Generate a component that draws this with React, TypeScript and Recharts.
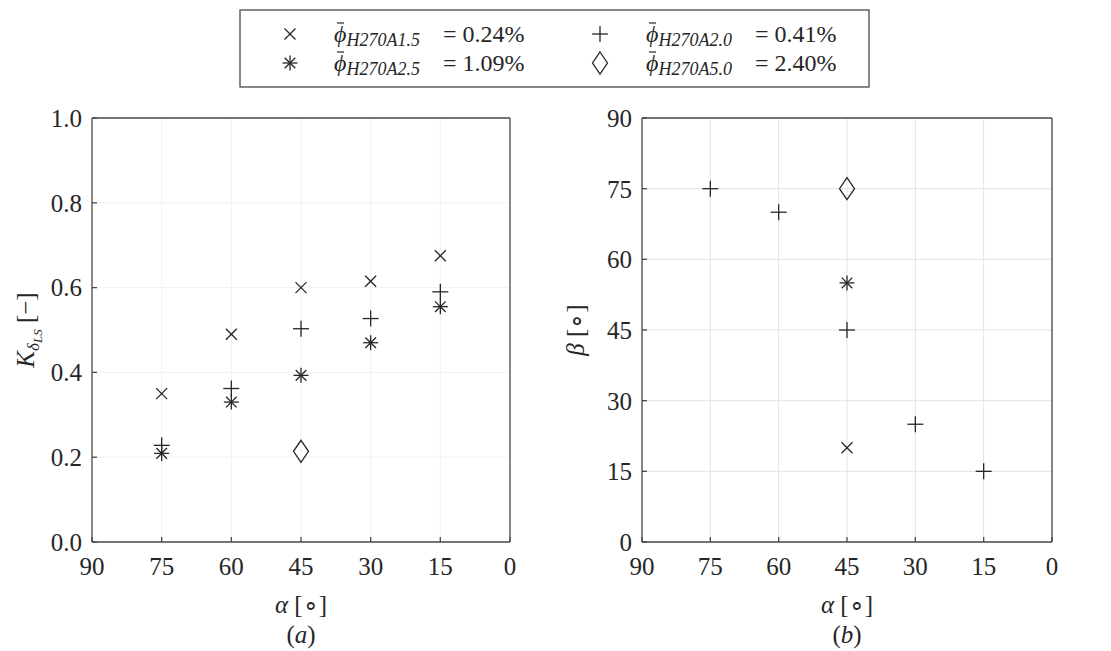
import React from "react";
import { ScatterChart, Scatter, XAxis, YAxis, CartesianGrid } from "recharts";

// ---- data ----
const alphaTicks = [0, 15, 30, 45, 60, 75, 90];
const kTicks = [0, 0.2, 0.4, 0.6, 0.8, 1.0];
const betaTicks = [0, 15, 30, 45, 60, 75, 90];

// (a) K_dLS against alpha
const alphaK = [75, 60, 45, 30, 15];
const kA15 = [0.35, 0.49, 0.6, 0.615, 0.675];
const kA20 = [0.228, 0.362, 0.503, 0.527, 0.59];
const kA25 = [0.209, 0.33, 0.393, 0.47, 0.555];
const alphaKA50 = [45];
const kA50 = [0.214];

// (b) beta against alpha
const alphaBA15 = [45];
const betaA15 = [20];
const alphaBA20 = [75, 60, 45, 30, 15];
const betaA20 = [75, 70, 45, 25, 15];
const alphaBA25 = [45];
const betaA25 = [55];
const alphaBA50 = [45];
const betaA50 = [75];

const seriesSubs = ["H270A1.5", "H270A2.0", "H270A2.5", "H270A5.0"];
const seriesMeans = ["0.24%", "0.41%", "1.09%", "2.40%"];

const INK = "#262626";
const FRAME = "#4a4a4a";
const FONT = "Liberation Serif, Times New Roman, serif";

type Kind = "x" | "plus" | "star" | "diamond";
const kinds: Kind[] = ["x", "plus", "star", "diamond"];

const zip = (xs: number[], ys: number[]) => xs.map((x, i) => ({ alpha: x, v: ys[i] }));

function Glyph({ kind, cx, cy }: { kind: Kind; cx: number; cy: number }) {
  const s = { stroke: INK, strokeWidth: 1.3, fill: "none" };
  if (kind === "x") {
    const r = 5.5;
    return (
      <g {...s}>
        <line x1={cx - r} y1={cy - r} x2={cx + r} y2={cy + r} />
        <line x1={cx - r} y1={cy + r} x2={cx + r} y2={cy - r} />
      </g>
    );
  }
  if (kind === "plus") {
    const r = 8;
    return (
      <g {...s}>
        <line x1={cx - r} y1={cy} x2={cx + r} y2={cy} />
        <line x1={cx} y1={cy - r} x2={cx} y2={cy + r} />
      </g>
    );
  }
  if (kind === "star") {
    const r = 7.5;
    const d = 5.3;
    return (
      <g {...s}>
        <line x1={cx - r} y1={cy} x2={cx + r} y2={cy} />
        <line x1={cx} y1={cy - r} x2={cx} y2={cy + r} />
        <line x1={cx - d} y1={cy - d} x2={cx + d} y2={cy + d} />
        <line x1={cx - d} y1={cy + d} x2={cx + d} y2={cy - d} />
      </g>
    );
  }
  return (
    <path
      d={`M${cx},${cy - 11} L${cx + 7.5},${cy} L${cx},${cy + 11} L${cx - 7.5},${cy} Z`}
      {...s}
    />
  );
}

const shapeOf = (kind: Kind) => (p: any) => <Glyph kind={kind} cx={p.cx} cy={p.cy} />;

const tickText = { fontFamily: FONT, fontSize: 25, fill: INK };

function XLabel(caption: string) {
  return (props: any) => {
    const vb = props.viewBox;
    const cx = vb.x + vb.width / 2;
    return (
      <g fontFamily={FONT} fill={INK}>
        <text x={cx} y={vb.y + 71} textAnchor="middle" fontSize={25}>
          <tspan fontStyle="italic">α</tspan>
          <tspan> [∘]</tspan>
        </text>
        <text x={cx} y={vb.y + 101} textAnchor="middle" fontSize={25}>
          <tspan>(</tspan>
          <tspan fontStyle="italic">{caption}</tspan>
          <tspan>)</tspan>
        </text>
      </g>
    );
  };
}

const KLabel = (props: any) => {
  const vb = props.viewBox;
  const x = vb.x + 2;
  const y = vb.y + vb.height / 2;
  return (
    <text
      x={x}
      y={y}
      transform={`rotate(-90 ${x} ${y})`}
      textAnchor="middle"
      fontFamily={FONT}
      fill={INK}
      fontSize={25}
    >
      <tspan fontStyle="italic">K</tspan>
      <tspan fontStyle="italic" fontSize={17} dy={5}>δ</tspan>
      <tspan fontStyle="italic" fontSize={13} dy={3}>LS</tspan>
      <tspan dy={-8}> [−]</tspan>
    </text>
  );
};

const BetaLabel = (props: any) => {
  const vb = props.viewBox;
  const x = vb.x + 2;
  const y = vb.y + vb.height / 2;
  return (
    <text
      x={x}
      y={y}
      transform={`rotate(-90 ${x} ${y})`}
      textAnchor="middle"
      fontFamily={FONT}
      fill={INK}
      fontSize={25}
    >
      <tspan fontStyle="italic">β</tspan>
      <tspan> [∘]</tspan>
    </text>
  );
};

function Panel(props: {
  width: number;
  marginLeft: number;
  marginRight: number;
  yTicks: number[];
  yDomain: [number, number];
  yFormat: (v: number) => string;
  yLabel: any;
  caption: string;
  gridColor: string;
  series: { kind: Kind; data: { alpha: number; v: number }[] }[];
}) {
  const axisStroke = { stroke: FRAME, strokeWidth: 1.3 };
  return (
    <ScatterChart
      width={props.width}
      height={651}
      margin={{ top: 117, right: props.marginRight, bottom: 69, left: props.marginLeft }}
    >
      <CartesianGrid xAxisId="b" yAxisId="l" stroke={props.gridColor} strokeWidth={1} />
      <XAxis
        xAxisId="b"
        dataKey="alpha"
        type="number"
        domain={[0, 90]}
        ticks={alphaTicks}
        reversed
        height={40}
        axisLine={axisStroke}
        tickLine={axisStroke}
        tickSize={-5}
        tickMargin={20}
        tick={tickText}
        label={{ content: XLabel(props.caption) }}
      />
      <XAxis
        xAxisId="t"
        orientation="top"
        type="number"
        domain={[0, 90]}
        ticks={alphaTicks}
        reversed
        height={1}
        axisLine={axisStroke}
        tickLine={axisStroke}
        tickSize={-5}
        tick={false}
      />
      <YAxis
        yAxisId="l"
        dataKey="v"
        type="number"
        domain={props.yDomain}
        ticks={props.yTicks}
        width={60}
        axisLine={axisStroke}
        tickLine={axisStroke}
        tickSize={-5}
        tickMargin={15}
        tick={tickText}
        tickFormatter={props.yFormat}
        label={{ content: props.yLabel }}
      />
      <YAxis
        yAxisId="r"
        orientation="right"
        type="number"
        domain={props.yDomain}
        ticks={props.yTicks}
        width={1}
        axisLine={axisStroke}
        tickLine={axisStroke}
        tickSize={-5}
        tick={false}
      />
      {props.series.map((s, i) => (
        <Scatter
          key={i}
          xAxisId="b"
          yAxisId="l"
          data={s.data}
          shape={shapeOf(s.kind)}
          isAnimationActive={false}
        />
      ))}
    </ScatterChart>
  );
}

function LegendBox() {
  const cols = [
    { gx: 290, tx: 334, ex: 443 },
    { gx: 600, tx: 646, ex: 755 },
  ];
  const rows = [34, 63];
  return (
    <svg width={1111} height={96} style={{ position: "absolute", left: 0, top: 0 }}>
      <rect x={240} y={10} width={629} height={77} fill="#fff" stroke={FRAME} strokeWidth={1.3} />
      {kinds.map((kind, i) => {
        const c = cols[i % 2];
        const y = rows[Math.floor(i / 2)];
        return (
          <g key={kind}>
            <Glyph kind={kind} cx={c.gx} cy={y} />
            <line x1={c.tx + 3} x2={c.tx + 10} y1={y - 11} y2={y - 11} stroke={INK} strokeWidth={1.2} />
            <text x={c.tx} y={y + 8} fontFamily={FONT} fill={INK} fontSize={24}>
              <tspan fontStyle="italic">ϕ</tspan>
              <tspan fontStyle="italic" fontSize={18} dy={4}>{seriesSubs[i]}</tspan>
              <tspan x={c.ex} dy={-4}>= {seriesMeans[i]}</tspan>
            </text>
          </g>
        );
      })}
    </svg>
  );
}

export default function App() {
  return (
    <div
      style={{
        position: "absolute",
        left: 0,
        top: 0,
        width: 1111,
        height: 651,
        background: "#fff",
        fontFamily: FONT,
      }}
    >
      <div style={{ position: "absolute", left: 0, top: 0 }}>
        <Panel
          width={540}
          marginLeft={32}
          marginRight={29}
          yTicks={kTicks}
          yDomain={[0, 1]}
          yFormat={(v) => v.toFixed(1)}
          yLabel={KLabel}
          caption="a"
          gridColor="#f1f1f1"
          series={[
            { kind: "x", data: zip(alphaK, kA15) },
            { kind: "plus", data: zip(alphaK, kA20) },
            { kind: "star", data: zip(alphaK, kA25) },
            { kind: "diamond", data: zip(alphaKA50, kA50) },
          ]}
        />
      </div>
      <div style={{ position: "absolute", left: 540, top: 0 }}>
        <Panel
          width={571}
          marginLeft={42}
          marginRight={58}
          yTicks={betaTicks}
          yDomain={[0, 90]}
          yFormat={(v) => String(v)}
          yLabel={BetaLabel}
          caption="b"
          gridColor="#e3e3e3"
          series={[
            { kind: "x", data: zip(alphaBA15, betaA15) },
            { kind: "plus", data: zip(alphaBA20, betaA20) },
            { kind: "star", data: zip(alphaBA25, betaA25) },
            { kind: "diamond", data: zip(alphaBA50, betaA50) },
          ]}
        />
      </div>
      <LegendBox />
    </div>
  );
}
